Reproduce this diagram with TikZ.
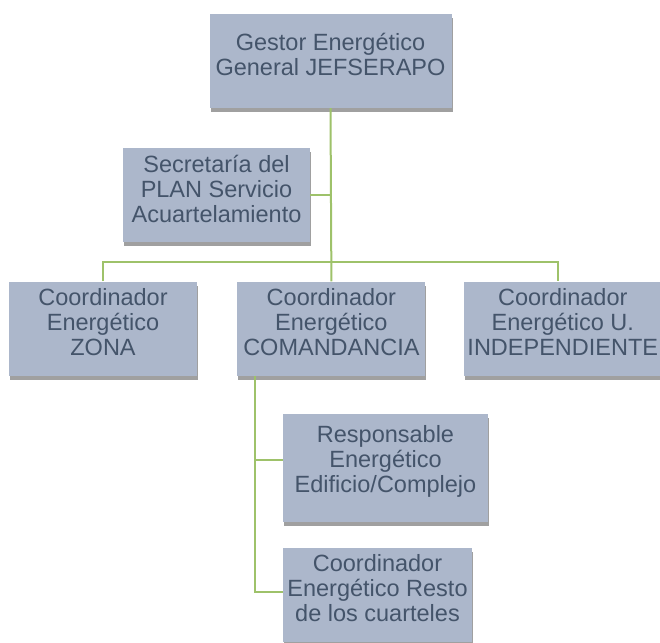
\documentclass[tikz,border=0pt]{standalone}
\usepackage{fontspec}
\setmainfont{Liberation Sans}
\usepackage{tikz}
\usetikzlibrary{positioning,shadows}
\definecolor{boxfill}{RGB}{172,183,203}
\definecolor{boxtext}{RGB}{68,84,106}
\definecolor{linkgreen}{RGB}{158,194,106}
\definecolor{shadowgray}{RGB}{160,160,160}

\begin{document}
\begin{tikzpicture}[
  x=1pt, y=-1pt,
  node distance=40pt,
  unit/.style={rectangle, fill=boxfill, inner sep=0pt, minimum width=188pt,
    minimum height=94pt,
    drop shadow={shadow xshift=1pt, shadow yshift=-4pt, fill=shadowgray, opacity=1}},
  txt/.style={text=boxtext, align=center, inner sep=0pt, yshift=6.5pt,
    font=\fontsize{23.5}{25}\selectfont},
  link/.style={draw=linkgreen, line width=2pt}
]
  \useasboundingbox (0,0) rectangle (660,642);

  \node[unit, minimum width=242pt,
    label={[txt]center:Gestor Energético\\General JEFSERAPO}] (top) at (330.5,61) {};
  \node[unit, minimum width=187pt,
    label={[txt]center:Secretaría del\\PLAN Servicio\\Acuartelamiento}] (sec) at (216.5,195) {};
  \node[unit, label={[txt]center:Coordinador\\Energético\\ZONA}] (zona) at (103,328.5) {};
  \node[unit, right=of zona,
    label={[txt]center:Coordinador\\Energético\\COMANDANCIA}] (coman) {};
  \node[unit, right=38pt of coman, minimum width=198pt,
    label={[txt]center:Coordinador\\Energético U.\\INDEPENDIENTE}] (indep) {};
  \node[unit, minimum width=205pt, minimum height=108pt,
    label={[txt]center:Responsable\\Energético\\Edificio/Complejo}] (resp) at (385.5,468) {};
  \node[unit, minimum width=189pt,
    label={[txt]center:Coordinador\\Energético Resto\\de los cuarteles}] (resto) at (377.5,595) {};

  \coordinate (busR) at (558,262);
  \coordinate (joinResp) at (255,460);
  \coordinate (joinResto) at (255,592);

  \draw[link] (top.south) -- (coman.north);
  \draw[link] (sec.east) -- (sec.east -| top.south);
  \draw[link] (zona.north) |- (busR) -- (busR |- indep.north);
  \draw[link] (coman.south -| joinResp) -- (joinResto) -- (joinResto -| resto.west);
  \draw[link] (joinResp) -- (joinResp -| resp.west);
\end{tikzpicture}
\end{document}
